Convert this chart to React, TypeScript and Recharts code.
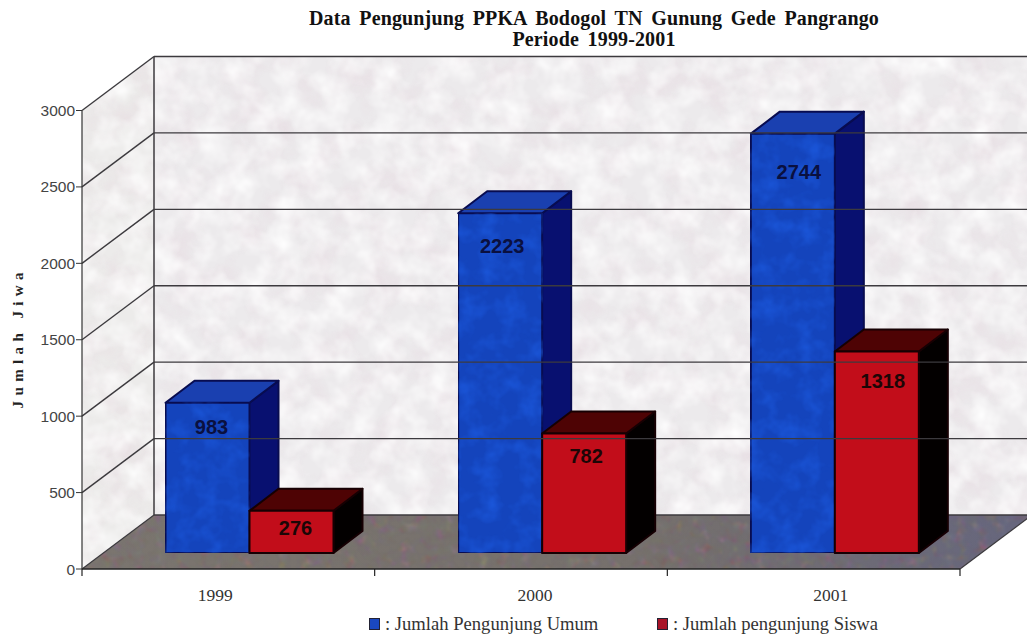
import { BarChart, Bar, XAxis, YAxis, Legend, LabelList, ReferenceArea, ReferenceLine } from "recharts";

const categories = ["1999", "2000", "2001"];
const umum = [983, 2223, 2744];
const siswa = [276, 782, 1318];
const yTicks = [0, 500, 1000, 1500, 2000, 2500, 3000];
const gridTicks = [500, 1000, 1500, 2000, 2500, 3000];

const chartData = categories.map((year, i) => ({ year, umum: umum[i], siswa: siswa[i] }));

// chart depth, the walls sit this far behind the axes
const WALL_DX = 72;
const WALL_DY = -54;
// bars stand part way into the floor
const BAR_DX = 21.5;
const BAR_DY = -16;
const BAR_DEPTH_X = 29;
const BAR_DEPTH_Y = -22;

const umumDrop = [24, 33, 38];
const siswaDrop = [17, 23, 29];
const labelShift = [4, 2, 6];
// the year labels are not centred on their bands in the scan
const yearShift = [-13, 14, 17];

const SERIF = "'Liberation Serif', serif";
const SANS = "'Liberation Sans', sans-serif";
const LINE = "#3c3a3e";

function Textures() {
  return (
    <defs>
      <linearGradient id="floorTint" x1="0" y1="0" x2="1" y2="0">
        <stop offset="0" stopColor="#7b756f" />
        <stop offset="0.6" stopColor="#76706c" />
        <stop offset="1" stopColor="#66667e" />
      </linearGradient>
      <filter id="paper" x="0" y="0" width="1" height="1" colorInterpolationFilters="sRGB">
        <feTurbulence type="fractalNoise" baseFrequency="0.03" numOctaves="4" seed="7" result="n" />
        <feColorMatrix in="n" type="matrix" values="0 0 0 0 0.9  0 0 0 0 0.84  0 0 0 0 0.87  1 0 0 0 -0.4" result="tint" />
        <feComposite in="tint" in2="SourceAlpha" operator="in" result="t" />
        <feTurbulence type="fractalNoise" baseFrequency="0.04" numOctaves="3" seed="21" result="m" />
        <feColorMatrix in="m" type="matrix" values="0 0 0 0 1  0 0 0 0 1  0 0 0 0 1  1.6 0 0 0 -0.55" result="white" />
        <feComposite in="white" in2="SourceAlpha" operator="in" result="w" />
        <feMerge>
          <feMergeNode in="SourceGraphic" />
          <feMergeNode in="t" />
          <feMergeNode in="w" />
        </feMerge>
      </filter>
      <filter id="grain" x="0" y="0" width="1" height="1" colorInterpolationFilters="sRGB">
        <feTurbulence type="fractalNoise" baseFrequency="0.09" numOctaves="2" seed="3" result="n" />
        <feColorMatrix in="n" type="matrix" values="0.5 0 0 0 0.2  0 0.45 0 0 0.2  0 0 0.5 0 0.2  0.9 0 0 0 -0.3" result="tint" />
        <feComposite in="tint" in2="SourceAlpha" operator="in" result="t" />
        <feMerge>
          <feMergeNode in="SourceGraphic" />
          <feMergeNode in="t" />
        </feMerge>
      </filter>
      <filter id="mottle" x="0" y="0" width="1" height="1" colorInterpolationFilters="sRGB">
        <feTurbulence type="fractalNoise" baseFrequency="0.05" numOctaves="3" seed="11" result="n" />
        <feColorMatrix in="n" type="matrix" values="0 0 0 0 0.12  0 0 0 0 0.38  0 0 0 0 0.92  1.2 0 0 0 -0.5" result="tint" />
        <feComposite in="tint" in2="SourceAlpha" operator="in" result="t" />
        <feMerge>
          <feMergeNode in="SourceGraphic" />
          <feMergeNode in="t" />
        </feMerge>
      </filter>
    </defs>
  );
}

function Walls(props: any) {
  const { x, y, width, height } = props;
  const bottom = y + height;
  const right = x + width;
  const step = width / categories.length;
  return (
    <g>
      <Textures />
      <polygon
        points={`${x},${y} ${x + WALL_DX},${y + WALL_DY} ${x + WALL_DX},${bottom + WALL_DY} ${x},${bottom}`}
        fill="#ecebea"
        filter="url(#paper)"
      />
      <rect x={x + WALL_DX} y={y + WALL_DY} width={width} height={height} fill="#eceaec" filter="url(#paper)" />
      <polygon
        points={`${x},${bottom} ${x + WALL_DX},${bottom + WALL_DY} ${right + WALL_DX},${bottom + WALL_DY} ${right},${bottom}`}
        fill="url(#floorTint)"
        filter="url(#grain)"
      />
      <line x1={x + WALL_DX} y1={y + WALL_DY} x2={x + WALL_DX} y2={bottom + WALL_DY} stroke={LINE} strokeWidth={1.5} />
      <line x1={x + WALL_DX} y1={bottom + WALL_DY} x2={right + WALL_DX} y2={bottom + WALL_DY} stroke={LINE} strokeWidth={1.4} />
      <line x1={x} y1={bottom} x2={x + WALL_DX} y2={bottom + WALL_DY} stroke={LINE} strokeWidth={1.2} />
      <line x1={right} y1={bottom} x2={right + WALL_DX} y2={bottom + WALL_DY} stroke={LINE} strokeWidth={1.2} />
      {categories.concat("").map((c, i) => (
        <line key={i} x1={x + step * i} y1={bottom} x2={x + step * i} y2={bottom + 7} stroke="#222" strokeWidth={1.2} />
      ))}
    </g>
  );
}

function GridLine3D(props: any) {
  const { x1, y1, x2, y2 } = props;
  const left = Math.min(x1, x2);
  const right = Math.max(x1, x2);
  const yy = y1 ?? y2;
  return (
    <g>
      <line x1={left} y1={yy} x2={left + WALL_DX} y2={yy + WALL_DY} stroke={LINE} strokeWidth={1.4} />
      <line x1={left + WALL_DX} y1={yy + WALL_DY} x2={right + WALL_DX} y2={yy + WALL_DY} stroke={LINE} strokeWidth={1.4} />
    </g>
  );
}

function Box3D(props: any) {
  const { x, y, width, height, front, top, side, edge, mottled } = props;
  const fx = x + BAR_DX;
  const fy = y + BAR_DY;
  const fb = fy + height;
  const fr = fx + width;
  return (
    <g stroke={edge} strokeWidth={2} strokeLinejoin="round">
      <polygon
        points={`${fr},${fy} ${fr + BAR_DEPTH_X},${fy + BAR_DEPTH_Y} ${fr + BAR_DEPTH_X},${fb + BAR_DEPTH_Y} ${fr},${fb}`}
        fill={side}
      />
      <polygon
        points={`${fx},${fy} ${fx + BAR_DEPTH_X},${fy + BAR_DEPTH_Y} ${fr + BAR_DEPTH_X},${fy + BAR_DEPTH_Y} ${fr},${fy}`}
        fill={top}
      />
      <rect x={fx} y={fy} width={width} height={height} fill={front} filter={mottled ? "url(#mottle)" : undefined} />
    </g>
  );
}

const UmumBar = (props: any) => <Box3D {...props} front="#1444bc" top="#1a40b0" side="#081070" edge="#080c50" mottled />;
const SiswaBar = (props: any) => <Box3D {...props} front="#c20d1a" top="#4e0304" side="#030000" edge="#160003" />;

function barLabel(drops: number[], color: string) {
  return (props: any) => {
    const { x, y, width, value, index } = props;
    return (
      <text
        x={x + BAR_DX + width / 2 + labelShift[index]}
        y={y + BAR_DY + drops[index]}
        textAnchor="middle"
        dominantBaseline="central"
        fontFamily={SANS}
        fontWeight="bold"
        fontSize={20}
        fill={color}
      >
        {value}
      </text>
    );
  };
}

function YearTick(props: any) {
  const { x, y, payload, index } = props;
  return (
    <text x={x + yearShift[index]} y={y + 18} textAnchor="middle" dominantBaseline="central" fontFamily={SERIF} fontSize={17.5} fill="#333">
      {payload.value}
    </text>
  );
}

function LegendRow({ payload }: any) {
  return (
    <div style={{ display: "flex", fontFamily: SERIF, fontSize: 18.6, color: "#333", whiteSpace: "nowrap" }}>
      {(payload || []).map((p: any) => (
        <div key={p.value} style={{ width: 288, display: "flex", alignItems: "center" }}>
          <span style={{ width: 9, height: 10, background: p.color, border: "1px solid #223", marginRight: 5 }} />
          <span>: {p.value}</span>
        </div>
      ))}
    </div>
  );
}

export default function App() {
  return (
    <div style={{ position: "absolute", left: 0, top: 0, width: 1027, height: 637, background: "#fff", overflow: "hidden" }}>
      <div
        style={{
          position: "absolute",
          left: 244,
          width: 700,
          top: 8,
          textAlign: "center",
          fontFamily: SERIF,
          fontWeight: "bold",
          fontSize: 20,
          letterSpacing: 0.14,
          wordSpacing: 3.5,
          lineHeight: "21px",
          color: "#111",
        }}
      >
        Data Pengunjung PPKA Bodogol TN Gunung Gede Pangrango
        <br />
        Periode 1999-2001
      </div>
      <BarChart
        width={1027}
        height={637}
        data={chartData}
        margin={{ top: 110.5, right: 67, bottom: 0, left: 0 }}
        barGap={0}
        barSize={84}
        style={{ position: "absolute", left: 0, top: 0 }}
      >
        <ReferenceArea y1={0} y2={3000} shape={Walls} ifOverflow="visible" />
        {gridTicks.map((t) => (
          <ReferenceLine key={t} y={t} shape={GridLine3D} ifOverflow="visible" />
        ))}
        <XAxis
          dataKey="year"
          height={68}
          tickLine={false}
          axisLine={{ stroke: "#222", strokeWidth: 1.4 }}
          tick={<YearTick />}
        />
        <YAxis
          width={82}
          domain={[0, 3000]}
          ticks={yTicks}
          interval={0}
          tickSize={6}
          tickMargin={1}
          tickLine={{ stroke: "#333" }}
          axisLine={{ stroke: "#333", strokeWidth: 1.2 }}
          tick={{ fontFamily: SANS, fontSize: 15.5, fill: "#444" }}
          label={{
            value: "Jumlah Jiwa",
            angle: -90,
            position: "insideLeft",
            offset: 18,
            dy: -2,
            style: { fontFamily: SERIF, fontWeight: "bold", fontSize: 15, letterSpacing: 5.4, fill: "#222", textAnchor: "middle" },
          }}
        />
        <Legend
          content={<LegendRow />}
          wrapperStyle={{ left: 369, top: 613, width: 600, height: 0 }}
        />
        <Bar dataKey="umum" name="Jumlah Pengunjung Umum" fill="#1a48c0" shape={UmumBar} isAnimationActive={false}>
          <LabelList dataKey="umum" content={barLabel(umumDrop, "#0a1040")} />
        </Bar>
        <Bar dataKey="siswa" name="Jumlah pengunjung Siswa" fill="#a81428" shape={SiswaBar} isAnimationActive={false}>
          <LabelList dataKey="siswa" content={barLabel(siswaDrop, "#1c0606")} />
        </Bar>
      </BarChart>
    </div>
  );
}
